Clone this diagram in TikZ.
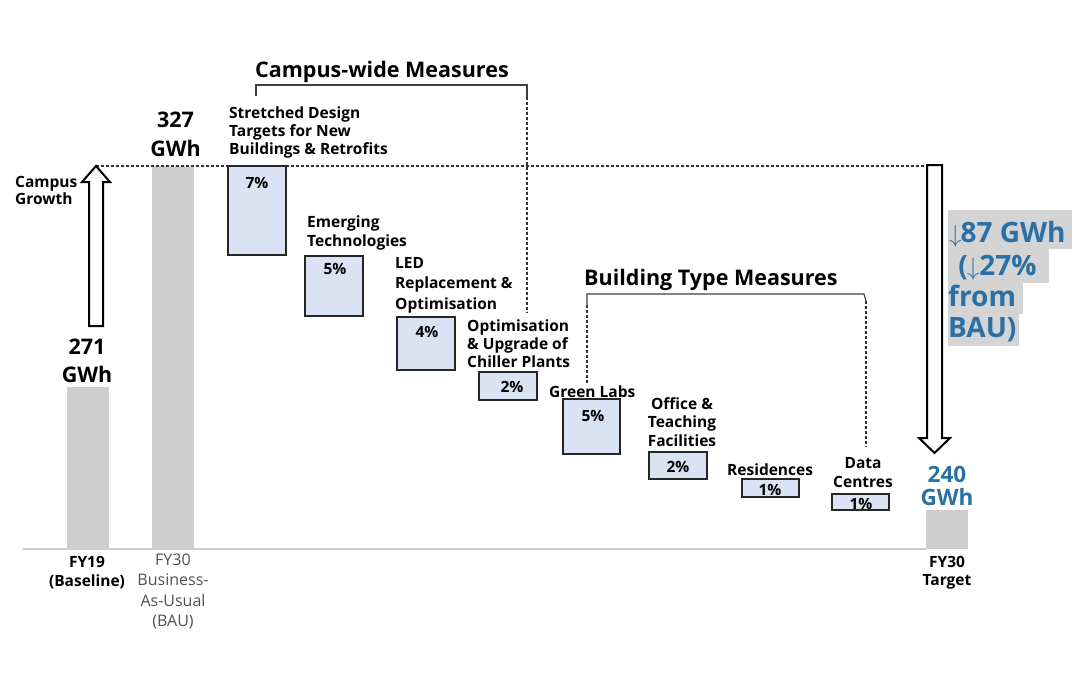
\documentclass[tikz,border=0pt]{standalone}
\usepackage{fontspec}
\setmainfont{Open Sans}
\usetikzlibrary{calc}
\definecolor{barg}{RGB}{206,206,206}
\definecolor{boxf}{RGB}{218,227,243}
\definecolor{axisc}{RGB}{196,206,212}
\definecolor{blu}{RGB}{42,112,164}
\definecolor{hil}{RGB}{212,212,212}
\definecolor{bau}{RGB}{80,80,80}
\newcommand\mlL[1]{\begin{tabular}[t]{@{}l@{}}#1\end{tabular}}
\newcommand\mlC[1]{\begin{tabular}[t]{@{}c@{}}#1\end{tabular}}
\tikzset{
  lbl/.style={inner sep=0pt, font=\bfseries\fontsize{15.5}{18.5}\selectfont},
  big/.style={inner sep=0pt, font=\bfseries\fontsize{21.5}{29}\selectfont},
  pbox/.style={draw=black!85, line width=2pt, fill=boxf, inner sep=0pt},
  pct/.style={inner sep=0pt, font=\bfseries\fontsize{15.5}{18}\selectfont},
  bar/.style={fill=barg, draw=none},
  hollow/.style={draw=black, line width=2pt, fill=white, line join=miter},
  dsh/.style={draw=black!80, line width=1.1pt, dash pattern=on 3pt off 2pt},
  brk/.style={draw=black!75, line width=1.1pt},
  bluetxt/.style={inner sep=0pt, text=blu, font=\bfseries\fontsize{28}{31}\selectfont, anchor=base west}
}
\begin{document}
\begin{tikzpicture}[x=1pt,y=-1pt]
\useasboundingbox (0,0) rectangle (1080,680);
% axis
\coordinate (ax0) at (23,549);
\coordinate (ax1) at (926,549);
\draw[axisc, line width=1.5pt] (ax0) -- (ax1);
% bars
\fill[bar] (67,387) rectangle (109,549);
\fill[bar] (152,166) rectangle (194,549);
\fill[bar] (926,510) rectangle (968,549);
% dashed top line
\coordinate (tipU) at (96,166);
\coordinate (topD) at (927,166);
\draw[dsh] (tipU) -- (topD);
% up arrow
\draw[hollow] (89,326) -- (89,182) -- (82,182) -- (tipU) -- (110,182) -- (103,182) -- (103,326) -- cycle;
% down arrow
\draw[hollow] (927,165) -- (927,438) -- (919,438) -- (934.5,453) -- (950,438) -- (942,438) -- (942,165) -- cycle;
% boxes
\node[pbox, minimum width=58pt, minimum height=89pt] (b7) at (257,210.5) {};
\node[pbox, minimum width=58pt, minimum height=60pt] (b5a) at (334,286) {};
\node[pbox, minimum width=58pt, minimum height=53pt] (b4) at (426,343.5) {};
\node[pbox, minimum width=58pt, minimum height=28pt] (b2a) at (508,386) {};
\node[pbox, minimum width=57pt, minimum height=55pt] (b5b) at (591.5,426.5) {};
\node[pbox, minimum width=58pt, minimum height=27pt] (b2b) at (678,465.5) {};
\node[pbox, minimum width=57pt, minimum height=18pt] (b1a) at (770.5,488) {};
\node[pbox, minimum width=57pt, minimum height=16pt] (b1b) at (860.5,502) {};
\node[pct] (p7) at (257,183) {7\%};
\node[pct] (p5a) at (335,269) {5\%};
\node[pct] (p4) at (427,332) {4\%};
\node[pct] (p2a) at (512,387) {2\%};
\node[pct] (p5b) at (593,416) {5\%};
\node[pct] (p2b) at (678,467) {2\%};
\node[pct] (p1a) at (770,490) {1\%};
\node[pct] (p1b) at (861,504) {1\%};
% brackets
\coordinate (cwL) at (256,96);
\coordinate (cwLt) at (256,85);
\coordinate (cwRt) at (527,85);
\coordinate (cwR) at (527,97);
\coordinate (cwE) at (527,313);
\draw[brk] (cwL) -- (cwLt) -- (cwRt) -- (cwR);
\draw[dsh] (cwR) -- (cwE);
\coordinate (btL) at (587,305);
\coordinate (btLt) at (587,294);
\coordinate (btRt) at (864,294);
\coordinate (btR) at (866,301);
\coordinate (btLe) at (587,383);
\coordinate (btRe) at (866,447);
\draw[brk] (btL) -- (btLt) -- (btRt) -- (btR);
\draw[dsh] (btL) -- (btLe);
\draw[dsh] (btR) -- (btRe);
% titles
\node[big, anchor=base west] (tcw) at (255,77) {Campus-wide Measures};
\node[big, anchor=base west] (tbt) at (584,285) {Building Type Measures};
% values
\node[big, anchor=base] (v327) at (175.5,127) {\mlC{327\\GWh}};
\node[big, anchor=base] (v271) at (87,354) {\fontsize{21.5}{28}\selectfont\mlC{271\\GWh}};
\node[big, anchor=base, text=blu] (v240) at (947,482) {\fontsize{22.5}{22}\selectfont\mlC{240\\GWh}};
% labels
\node[lbl, anchor=base west] (lcg) at (15,187) {\fontsize{15.5}{17.5}\selectfont\mlL{Campus\\Growth}};
\node[lbl, anchor=base west] (l1) at (229,118) {\fontsize{15.5}{18}\selectfont\mlL{Stretched Design\\Targets for New\\Buildings \& Retrofits}};
\node[lbl, anchor=base west] (l2) at (307,227) {\fontsize{15.5}{19}\selectfont\mlL{Emerging\\Technologies}};
\node[lbl, anchor=base west] (l3) at (395,268) {\fontsize{15.5}{20.5}\selectfont\mlL{LED\\Replacement \&\\Optimisation}};
\node[lbl, anchor=base west] (l4) at (467,331) {\fontsize{15.5}{18}\selectfont\mlL{Optimisation\\\& Upgrade of\\Chiller Plants}};
\node[lbl, anchor=base west] (l5) at (549,397) {Green Labs};
\node[lbl, anchor=base] (l6) at (682,409) {\mlC{Office \&\\Teaching\\Facilities}};
\node[lbl, anchor=base west] (l7) at (727,475) {Residences};
\node[lbl, anchor=base] (l8) at (863,468) {\fontsize{15.5}{19}\selectfont\mlC{Data\\Centres}};
\node[lbl, anchor=base] (x1) at (87,567) {\fontsize{15.5}{19}\selectfont\mlC{FY19\\(Baseline)}};
\node[inner sep=0pt, anchor=base, text=bau, font=\fontsize{16}{20.5}\selectfont] (x2) at (173,565) {\mlC{FY30\\Business-\\As-Usual\\(BAU)}};
\node[lbl, anchor=base] (x3) at (947,567) {\mlC{FY30\\Target}};
% highlighted reduction text
\fill[hil] (948,210) rectangle (1072,249);
\fill[hil] (948,249) rectangle (1049,283);
\fill[hil] (948,283) rectangle (1023,314);
\fill[hil] (948,314) rectangle (1019,346);
\node[bluetxt] (r1) at (949,242) {$\downarrow$\kern-1pt87 GWh};
\node[bluetxt] (r2) at (951,275) {\ (\kern-1pt$\downarrow$27\%};
\node[bluetxt] (r3) at (948,306) {from};
\node[bluetxt] (r4) at (948,337) {BAU)};
\end{tikzpicture}
\end{document}
